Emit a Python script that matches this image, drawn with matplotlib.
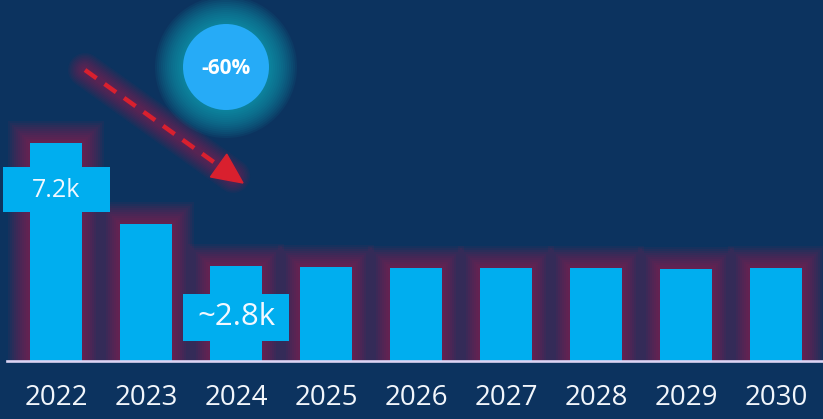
import matplotlib.pyplot as plt
from matplotlib.patches import Circle, Polygon, Rectangle
import numpy as np

years = ['2022', '2023', '2024', '2025', '2026', '2027', '2028', '2029', '2030']
values = [7.2, 4.52, 3.14, 3.1, 3.07, 3.07, 3.07, 3.05, 3.07]
labels = {0: '7.2k', 2: '~2.8k'}
change = '-60%'

bg = '#0c335f'
bar_col = '#00aeef'
glow_red = '#b8184a'
font = ['Open Sans', 'DejaVu Sans']

fig = plt.figure(figsize=(8.23, 4.19), dpi=100, facecolor=bg)
ax = fig.add_axes([0, 0, 1, 1])
ax.set_facecolor(bg)
px_x = 90.0   # pixels per category
px_y = 30.3   # pixels per 1k
ax.set_xlim(-56 / px_x, (823 - 56) / px_x)
ax.set_ylim(-58 / px_y, (419 - 58) / px_y)
ax.axis('off')

x = np.arange(len(years))
w = 52 / px_x

# red glow behind the bars
for pad in range(22, 0, -2):
    ax.bar(x, [v + pad / px_y for v in values], width=w + 2 * pad / px_x,
           color=glow_red, alpha=0.065, linewidth=0, zorder=1)
ax.bar(x, values, width=w, color=bar_col, linewidth=0, zorder=3)

ax.axhline(0, xmin=7 / 823, xmax=822 / 823, color='#dcd4f4', lw=1.9, zorder=4)

for i, yr in enumerate(years):
    ax.text(i, -37 / px_y, yr, ha='center', va='center', color='#f2f6fb',
            fontsize=20, family=font, zorder=5)

# value boxes
box_sizes = {0: (107, 45, 18), 2: (106, 47, 22.5)}
box_y = {0: 190, 2: 317}
for i, txt in labels.items():
    bw, bh, fs = box_sizes[i]
    yc = (361 - box_y[i]) / px_y
    ax.add_patch(Rectangle((i - bw / 2 / px_x, yc - bh / 2 / px_y), bw / px_x, bh / px_y,
                           color=bar_col, linewidth=0, zorder=4))
    ax.text(i, yc, txt, ha='center', va='center', color='#f2f8ff',
            fontsize=fs, family=font, zorder=5)

# overlay in pixel coordinates for the decorations
ov = fig.add_axes([0, 0, 1, 1])
ov.set_xlim(0, 823)
ov.set_ylim(419, 0)
ov.axis('off')
ov.patch.set_alpha(0)

# dashed arrow with glow
x0, y0 = 85, 70
tx, ty = 243, 183
d = np.array([tx - x0, ty - y0], float)
d /= np.hypot(*d)
n = np.array([-d[1], d[0]])
hl, hw = 30, 28
base = np.array([tx, ty]) - d * hl
for lw in range(34, 4, -3):
    ov.plot([x0, tx - d[0] * 12], [y0, ty - d[1] * 12], color=glow_red, lw=lw * 0.72,
            alpha=0.06, solid_capstyle='round', zorder=2)
ov.plot([x0, base[0]], [y0, base[1]], color='#d9202e', lw=3.2,
        linestyle=(0, (3.2, 2.2)), zorder=3)
ov.add_patch(Polygon([(tx, ty), base + n * hw / 2, base - n * hw / 2],
                     closed=True, color='#d9202e', zorder=3))

# badge with glow
cx, cy, r = 226, 67, 43
for g in range(28, 0, -2):
    ov.add_patch(Circle((cx, cy), r + g, color='#10b4c4', alpha=0.07, lw=0, zorder=2))
ov.add_patch(Circle((cx, cy), r, color='#26abf7', lw=0, zorder=3))
ov.text(cx, cy + 1, change, ha='center', va='center', color='white',
        fontsize=15, fontweight='bold', family=font, zorder=4)

fig.savefig('out.png', dpi=100, facecolor=bg)
